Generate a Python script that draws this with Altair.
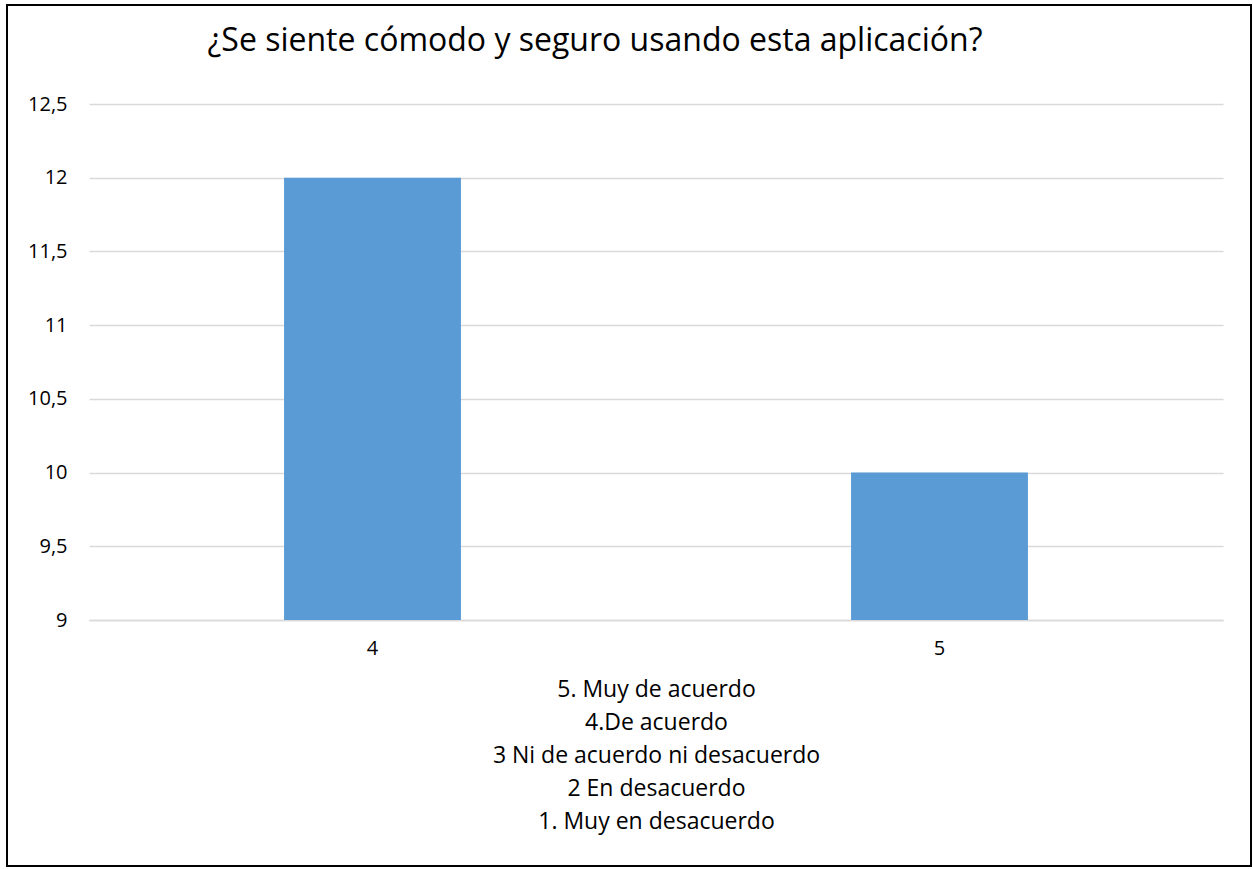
import altair as alt
import pandas as pd

# Survey answers (Likert level) and number of respondents
categories = ["4", "5"]
counts = [12, 10]

# Scale legend printed under the x axis
scale_legend = [
    "5. Muy de acuerdo",
    "4.De acuerdo",
    "3 Ni de acuerdo ni desacuerdo",
    "2 En desacuerdo",
    "1. Muy en desacuerdo",
]

y_ticks = [9, 9.5, 10, 10.5, 11, 11.5, 12, 12.5]

FONT = "Open Sans"
TEXT = "#000000"
GRID = "#d9d9d9"
BAR = "#5B9BD5"

df = pd.DataFrame({"respuesta": categories, "n": counts})

W, H = 1134, 516

bars = alt.Chart(df).mark_bar(color=BAR).encode(
    x=alt.X(
        "respuesta:N",
        sort=categories,
        scale=alt.Scale(paddingInner=0.688, paddingOuter=0.344),
        axis=alt.Axis(
            title=scale_legend,
            titleFont=FONT,
            titleFontSize=23,
            titleFontWeight="normal",
            titleColor=TEXT,
            titleLineHeight=33,
            titleBaseline="top",
            titleY=58,
            labelFont=FONT,
            labelFontSize=20,
            labelColor=TEXT,
            labelAngle=0,
            labelPadding=18,
            ticks=False,
            grid=False,
            domainColor=GRID,
            domainWidth=1.5,
        ),
    ),
    y=alt.Y(
        "n:Q",
        scale=alt.Scale(domain=[9, 12.5], zero=False, nice=False),
        axis=alt.Axis(
            title=None,
            values=y_ticks,
            labelExpr="replace(format(datum.value, ''), '.', ',')",
            labelFont=FONT,
            labelFontSize=20,
            labelColor=TEXT,
            labelPadding=22,
            ticks=False,
            domain=False,
            gridColor=GRID,
            gridWidth=1.5,
        ),
    ),
    y2=alt.datum(9),
)

# Outer frame of the chart area
frame = alt.Chart(pd.DataFrame({"k": [0]})).mark_rect(
    fill=None, stroke="#000000", strokeWidth=2
).encode(
    x=alt.value(-82),
    x2=alt.value(1162),
    y=alt.value(-99),
    y2=alt.value(762),
)

chart = (
    alt.layer(bars, frame)
    .properties(
        width=W,
        height=H,
        title=alt.TitleParams(
            "¿Se siente cómodo y seguro usando esta aplicación?",
            font=FONT,
            fontSize=32,
            fontWeight="normal",
            color="#000000",
            anchor="middle",
            baseline="alphabetic",
            dx=-61,
            offset=-79,
        ),
        autosize=alt.AutoSizeParams(type="none"),
        padding={"left": 89, "top": 104, "right": 30, "bottom": 249},
    )
    .configure(background="white")
    .configure_view(stroke="transparent", strokeWidth=0)
)

chart.save("out.html", embed_options={"renderer": "svg", "actions": False})
